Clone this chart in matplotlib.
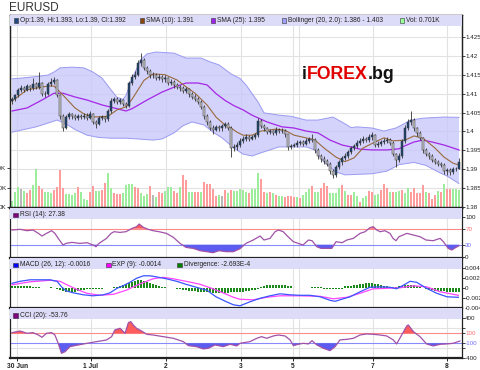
import numpy as np
import matplotlib
matplotlib.use("Agg")
import matplotlib.pyplot as plt
from matplotlib.patches import Rectangle
from matplotlib.transforms import blended_transform_factory

plt.rcParams['font.family'] = ['Liberation Sans', 'DejaVu Sans']

# ---------------- data ----------------
first_open = 1.4080
close = [
    1.4085, 1.4095, 1.4110, 1.4115, 1.4110, 1.4120, 1.4115, 1.4125, 1.4118, 1.4128,
    1.4100, 1.4098, 1.4125, 1.4132, 1.4135, 1.4095, 1.4040, 1.4010, 1.4038, 1.4045,
    1.4040, 1.4035, 1.4040, 1.4038, 1.4042, 1.4036, 1.4045, 1.4025, 1.4020, 1.4035,
    1.4038, 1.4032, 1.4055, 1.4080, 1.4085, 1.4078, 1.4082, 1.4072, 1.4068, 1.4128,
    1.4145, 1.4150, 1.4180, 1.4190, 1.4168, 1.4160, 1.4148, 1.4150, 1.4142, 1.4145,
    1.4138, 1.4140, 1.4128, 1.4132, 1.4122, 1.4118, 1.4115, 1.4108, 1.4112, 1.4098,
    1.4092, 1.4085, 1.4078, 1.4065, 1.4040, 1.4025, 1.4010, 1.4005, 1.4012, 1.4008,
    1.4015, 1.4020, 1.4010, 1.3955, 1.3960, 1.3965, 1.3975, 1.3980, 1.3985, 1.3980,
    1.3985, 1.3990, 1.4028, 1.4015, 1.4008, 1.3998, 1.4000, 1.3995, 1.4005, 1.4000,
    1.4002, 1.3992, 1.3958, 1.3962, 1.3965, 1.3970, 1.3972, 1.3968, 1.3975, 1.3980,
    1.3978, 1.3950, 1.3935, 1.3928, 1.3922, 1.3915, 1.3895, 1.3885, 1.3905, 1.3918,
    1.3930, 1.3935, 1.3945, 1.3955, 1.3962, 1.3970, 1.3975, 1.3980, 1.3978, 1.3985,
    1.3990, 1.3965, 1.3968, 1.3972, 1.3975, 1.3978, 1.3970, 1.3940, 1.3925, 1.3935,
    1.3975, 1.4010, 1.4025, 1.4030, 1.4008, 1.3995, 1.3982, 1.3950, 1.3940, 1.3935,
    1.3925, 1.3920, 1.3915, 1.3912, 1.3895, 1.3898, 1.3892, 1.3900, 1.3900, 1.3920]
high = [
    1.4092, 1.4100, 1.4116, 1.4122, 1.4120, 1.4126, 1.4124, 1.4140, 1.4130, 1.4157,
    1.4132, 1.4106, 1.4130, 1.4140, 1.4145, 1.4138, 1.4100, 1.4046, 1.4044, 1.4052,
    1.4050, 1.4046, 1.4046, 1.4045, 1.4050, 1.4048, 1.4055, 1.4048, 1.4030, 1.4040,
    1.4044, 1.4042, 1.4060, 1.4088, 1.4092, 1.4090, 1.4088, 1.4086, 1.4078, 1.4134,
    1.4152, 1.4160, 1.4188, 1.4207, 1.4194, 1.4172, 1.4164, 1.4156, 1.4154, 1.4152,
    1.4150, 1.4148, 1.4144, 1.4138, 1.4136, 1.4128, 1.4124, 1.4120, 1.4118, 1.4116,
    1.4104, 1.4098, 1.4090, 1.4082, 1.4070, 1.4046, 1.4030, 1.4016, 1.4018, 1.4018,
    1.4020, 1.4026, 1.4024, 1.4014, 1.3966, 1.3972, 1.3982, 1.3988, 1.3992, 1.3990,
    1.3990, 1.3996, 1.4035, 1.4032, 1.4020, 1.4012, 1.4006, 1.4004, 1.4012, 1.4010,
    1.4008, 1.4006, 1.3994, 1.3968, 1.3970, 1.3976, 1.3978, 1.3978, 1.3982, 1.3986,
    1.3992, 1.3982, 1.3956, 1.3940, 1.3934, 1.3926, 1.3918, 1.3900, 1.3910, 1.3924,
    1.3936, 1.3942, 1.3950, 1.3962, 1.3968, 1.3976, 1.3982, 1.3988, 1.3986, 1.3992,
    1.3998, 1.3994, 1.3974, 1.3978, 1.3982, 1.3986, 1.3982, 1.3974, 1.3944, 1.3942,
    1.3980, 1.4016, 1.4032, 1.4054, 1.4036, 1.4012, 1.4000, 1.3986, 1.3956, 1.3946,
    1.3940, 1.3930, 1.3924, 1.3920, 1.3916, 1.3904, 1.3902, 1.3906, 1.3906, 1.3930]
low = [
    1.4072, 1.4080, 1.4090, 1.4105, 1.4104, 1.4106, 1.4108, 1.4110, 1.4112, 1.4113,
    1.4094, 1.4090, 1.4095, 1.4120, 1.4126, 1.4090, 1.4032, 1.4000, 1.4006, 1.4032,
    1.4034, 1.4030, 1.4030, 1.4032, 1.4033, 1.4031, 1.4032, 1.4020, 1.4008, 1.4016,
    1.4030, 1.4026, 1.4028, 1.4050, 1.4074, 1.4072, 1.4072, 1.4066, 1.4062, 1.4064,
    1.4122, 1.4138, 1.4146, 1.4174, 1.4162, 1.4152, 1.4142, 1.4142, 1.4136, 1.4136,
    1.4132, 1.4132, 1.4122, 1.4122, 1.4116, 1.4112, 1.4108, 1.4102, 1.4102, 1.4092,
    1.4086, 1.4080, 1.4072, 1.4058, 1.4034, 1.4018, 1.4004, 1.3994, 1.4000, 1.4002,
    1.4002, 1.4010, 1.4004, 1.3932, 1.3948, 1.3952, 1.3960, 1.3970, 1.3974, 1.3974,
    1.3976, 1.3980, 1.3986, 1.4010, 1.4002, 1.3992, 1.3994, 1.3990, 1.3990, 1.3996,
    1.3996, 1.3986, 1.3952, 1.3954, 1.3958, 1.3960, 1.3964, 1.3962, 1.3964, 1.3970,
    1.3972, 1.3944, 1.3928, 1.3920, 1.3914, 1.3908, 1.3888, 1.3877, 1.3880, 1.3900,
    1.3912, 1.3924, 1.3930, 1.3940, 1.3950, 1.3956, 1.3964, 1.3970, 1.3972, 1.3972,
    1.3978, 1.3960, 1.3958, 1.3962, 1.3966, 1.3970, 1.3964, 1.3934, 1.3905, 1.3920,
    1.3930, 1.3970, 1.4004, 1.4018, 1.4002, 1.3988, 1.3976, 1.3944, 1.3934, 1.3928,
    1.3918, 1.3914, 1.3908, 1.3905, 1.3888, 1.3885, 1.3886, 1.3888, 1.3894, 1.3900]

volume = [  # thousands
    3.4, 8.0, 10.3, 9.2, 8.5, 7.5, 8.9, 11.5, 19.7, 10.9,
    9.4, 8.0, 7.7, 7.5, 8.9, 10.6, 19.1, 10.1, 6.7, 6.7,
    6.3, 7.2, 10.6, 7.7, 4.1, 3.8, 7.7, 10.9, 8.4, 8.4,
    8.9, 12.6, 17.8, 9.7, 7.2, 6.7, 6.7, 7.2, 11.5, 12.0,
    12.0, 10.3, 9.7, 7.2, 6.0, 6.7, 10.9, 6.3, 5.1, 7.9,
    7.2, 8.5, 10.3, 10.3, 8.5, 7.2, 10.6, 16.6, 14.0, 7.9,
    7.7, 7.9, 7.9, 8.0, 13.0, 12.0, 12.0, 9.4, 5.8, 6.5,
    5.8, 8.9, 7.2, 8.9, 8.4,
    8.5, 9.2, 8.9, 8.0, 7.2, 9.2, 9.2, 17.4, 14.5, 7.7,
    7.2, 8.0, 7.2, 6.3, 5.5, 5.8, 5.1, 5.8, 5.5, 5.0,
    5.0, 4.6, 6.3, 8.0, 9.4, 10.9, 7.7, 8.0, 10.1, 12.3,
    10.9, 7.2, 7.2, 7.4, 9.7, 11.5, 8.5, 6.3, 6.3, 8.0,
    5.5, 2.9, 4.6, 5.8, 8.5, 7.7, 6.3, 6.7, 8.9, 12.0,
    10.1, 8.0, 7.7, 8.0, 8.5, 8.9, 7.5, 9.7, 7.7, 9.7,
    7.5, 7.2, 11.5, 7.7, 7.2, 4.4, 6.3, 8.5, 7.7, 11.8,
    9.2, 9.4, 9.2, 9.2, 8.9]
vol_dir = ("gggngppggp" "pgggppppgg" "ggpgggppgg" "ppggpppggg" "gppgggpngp"
           "pgggppgppg" "gppgpppppg" "npgpg"
           "ggggpgggpp" "gpgpggpppp" "gpgggpggpp" "pggggpgppg" "gpggppggpp"
           "pgpggpggpp" "pppgpppgpg" "ppggg")

sma10_x = [0, 5, 12, 14, 17, 21, 24, 27, 32, 35, 38, 40, 42, 44, 47, 51, 55, 58, 61,
           65, 68, 71, 73, 75, 77, 80, 83, 88, 91, 94, 98, 101, 104, 108, 111, 114,
           117, 121, 124, 127, 131, 134, 137, 141, 144, 147, 149]
sma10_y = [1.4080, 1.4110, 1.4120, 1.4120, 1.4096, 1.4062, 1.4046, 1.4038, 1.4040,
           1.4057, 1.4065, 1.4085, 1.4110, 1.4135, 1.4152, 1.4150, 1.4136, 1.4118,
           1.4101, 1.4070, 1.4038, 1.4017, 1.4009, 1.3998, 1.3990, 1.3990, 1.4001,
           1.4006, 1.4003, 1.3990, 1.3983, 1.3977, 1.3956, 1.3932, 1.3920, 1.3930,
           1.3956, 1.3972, 1.3983, 1.3975, 1.3977, 1.3988, 1.3982, 1.3956, 1.3932,
           1.3916, 1.3911]
sma25_x = [0, 5, 10, 14, 17, 21, 25, 30, 34, 38, 40, 45, 50, 54, 58, 62, 65, 68, 71,
           74, 77, 80, 85, 90, 94, 98, 102, 106, 110, 113, 116, 120, 125, 129, 131,
           134, 137, 140, 144, 149]
sma25_y = [1.4054, 1.4062, 1.4083, 1.4101, 1.4101, 1.4091, 1.4083, 1.4070, 1.4062,
           1.4054, 1.4060, 1.4083, 1.4104, 1.4117, 1.4128, 1.4128, 1.4123, 1.4100,
           1.4082, 1.4068, 1.4057, 1.4043, 1.4025, 1.4012, 1.4009, 1.4001, 1.3996,
           1.3977, 1.3964, 1.3959, 1.3953, 1.3951, 1.3951, 1.3954, 1.3962, 1.3972,
           1.3977, 1.3972, 1.3964, 1.3951]
bb_up_x = [0, 3, 8, 12, 14, 16, 20, 24, 27, 30, 33, 35, 37, 38, 40, 43, 45, 48, 54,
           58, 63, 66, 69, 73, 76, 78, 82, 84, 89, 93, 98, 102, 107, 111, 113, 115,
           120, 124, 128, 133, 137, 144, 149]
bb_up_y = [1.4139, 1.4141, 1.4145, 1.4149, 1.4157, 1.4168, 1.4170, 1.4168, 1.4157,
           1.4141, 1.4110, 1.4090, 1.4085, 1.4095, 1.4140, 1.4190, 1.4205, 1.4210,
           1.4207, 1.4194, 1.4194, 1.4184, 1.4176, 1.4152, 1.4140, 1.4123, 1.4078,
           1.4049, 1.4043, 1.4040, 1.4030, 1.4030, 1.4038, 1.4020, 1.4010, 1.4012,
           1.4009, 1.4001, 1.4009, 1.4030, 1.4035, 1.4038, 1.4037]
bb_lo_x = [0, 4, 8, 12, 15, 18, 21, 25, 29, 33, 38, 42, 47, 50, 54, 57, 60, 64, 67,
           70, 74, 77, 80, 84, 89, 98, 101, 104, 108, 111, 120, 125, 129, 134, 138,
           142, 145, 149]
bb_lo_y = [1.3998, 1.4005, 1.4012, 1.4022, 1.4030, 1.4020, 1.4005, 1.3990, 1.3984,
           1.3982, 1.3982, 1.3980, 1.3977, 1.3980, 1.3996, 1.4015, 1.4025, 1.4017,
           1.3998, 1.3983, 1.3956, 1.3940, 1.3935, 1.3946, 1.3959, 1.3959, 1.3951,
           1.3919, 1.3893, 1.3885, 1.3888, 1.3895, 1.3912, 1.3918, 1.3910, 1.3893,
           1.3882, 1.3862]

rsi_x = [0, 2.7, 5, 7, 8.8, 10, 11.5, 13.2, 14.3, 15.4, 17, 18, 20, 22.6, 25, 27, 28,
         29, 31.5, 33, 34, 36, 38, 40, 41.5, 42.4, 43.8, 45.4, 47, 49, 51.5, 53.8, 56,
         58, 60.4, 62.7, 65, 67, 69, 71.5, 73.8, 76, 78, 80.4, 82.7, 84, 86, 87.7,
         88.8, 90.4, 92, 93.8, 95.4, 97, 98.8, 100, 101.6, 103, 105, 106.6, 108, 110,
         111.6, 113.8, 116, 117.7, 119.3, 120.4, 121.6, 122.7, 124.3, 126, 127, 128,
         129, 131.6, 133.8, 136, 138, 140.4, 142.7, 143.8, 145.4, 146.6, 148, 149]
rsi_v = [66.7, 68.4, 65, 66.7, 58.3, 51.7, 58.3, 65, 58.3, 45.8, 29.2, 33.3, 35.8,
         33.3, 35, 29.2, 25, 33.3, 45.8, 58.3, 62.5, 60.8, 62.5, 70.8, 75, 81.7, 73.3,
         68.4, 65, 62.5, 58.3, 48.3, 33.3, 23.3, 20.8, 15, 12.5, 10, 15, 12.5, 12.5,
         20, 33.3, 41.7, 51.7, 41.7, 45.8, 62.5, 66.7, 62.5, 50, 37.5, 33.3, 29.2,
         41.7, 40, 25, 20.8, 20.8, 20.8, 37.5, 35, 41.7, 45.8, 58.3, 62.5, 72.5, 75,
         66.7, 62.5, 65, 58.3, 45.8, 40, 50, 58.3, 54.2, 50, 41.7, 40, 45.8, 37.5,
         20.8, 16.7, 23.3, 27.4]

macd_x = [0, 2.7, 6, 9.3, 12.7, 15, 16.5, 18, 20.4, 23.8, 27, 30.4, 32.7, 35, 37,
          39.3, 41.5, 43.8, 46, 48, 51.5, 54.9, 58, 61.5, 65, 68, 71.5, 73.8, 76,
          79.3, 82.7, 86, 89.3, 92.7, 96, 99.3, 102.7, 106, 107.7, 109.3, 112.7, 116,
          119.3, 122.7, 126, 128.2, 130.4, 132.7, 134.9, 138.2, 141.6, 145, 148.8]
macd_v = [0.0010, 0.0014, 0.0017, 0.0017, 0.0017, 0.0014, 0.0003, -0.0005, -0.0009,
          -0.0013, -0.0015, -0.0013, -0.0009, 0.0000, 0.0005, 0.0012, 0.0020, 0.0025,
          0.0025, 0.0023, 0.0019, 0.0014, 0.0008, 0.0002, -0.0004, -0.0017, -0.0027,
          -0.0033, -0.0035, -0.0027, -0.0020, -0.0015, -0.0011, -0.0013, -0.0014,
          -0.0014, -0.0017, -0.0024, -0.0026, -0.0023, -0.0017, -0.0007, 0.0002,
          0.0003, 0.0002, -0.0001, 0.0006, 0.0014, 0.0012, 0.0000, -0.0010, -0.0017,
          -0.0018]
sig_x = [0, 6, 12.7, 16, 18, 21.5, 25, 29.3, 33.8, 38, 42.7, 47, 50.4, 53.8, 58,
         62.7, 67, 71.5, 73.8, 76, 80.4, 84.9, 89.3, 96, 102.7, 107.1, 111.6, 116,
         120.4, 124.9, 129.3, 133.8, 138.2, 142.7, 148.8]
sig_v = [0.0007, 0.0013, 0.0016, 0.0014, 0.0008, -0.0002, -0.0010, -0.0014, -0.0012,
         -0.0004, 0.0009, 0.0019, 0.0022, 0.0019, 0.0014, 0.0008, -0.0001, -0.0012,
         -0.0018, -0.0022, -0.0023, -0.0018, -0.0015, -0.0015, -0.0016, -0.0021,
         -0.0018, -0.0010, -0.0001, 0.0000, 0.0001, 0.0005, 0.0003, -0.0007, -0.0014]
divergence = [  # units of 1e-4
    1.3, 1.3, 1.3, 1.3, 1.3, 1.3, 1.3, 0.7, 0.7, 0.7,
    0, 0, 0, 0.7, 0,
    -0.7, -1.3, -2.0, -2.7, -2.7, -2.7, -2.7, -2.0,
    -1.3, -1.3, -0.7, -0.7, -0.7, -0.7, -0.7, -0.7, 0, 0, 0,
    0.7, 0.7, 1.3, 2.0, 2.7, 3.3, 4.0, 4.7, 5.3, 5.3, 4.7, 4.0,
    3.3, 2.7, 2.0, 1.3,
    0.7, 0.7, 0, 0, 0, -0.7,
    -0.7, -1.3, -1.3, -2.0, -2.0, -2.0, -2.7, -2.7, -2.7, -2.7, -2.7,
    -3.3, -3.3, -3.3, -3.3, -3.3, -3.3, -2.7, -2.7, -2.7, -2.7,
    -2.7, -2.0, -2.0, -1.3, -1.3, -0.7,
    0.7, 1.3, 2.0, 2.0, 2.0, 2.0, 2.0, 2.0, 2.0, 1.3, 1.3,
    0, 0, 0, 0, 0, 0,
    0.7, 0.7, 0.7, 0.7,
    -0.7, -0.7, -0.7, -0.7, -0.7, -0.7, -0.7, 1.3, 1.3,
    1.3, 2.0, 2.0, 2.7, 2.7, 3.3, 3.3, 3.3, 2.7, 2.7, 2.0,
    1.3, 1.3, 0.7, 0.7, 0.7,
    1.3, 1.3, 2.0, 2.0, 2.0, 2.0, 1.3, 0.7,
    0,
    -0.7, -1.3, -1.3, -2.0, -2.0, -2.0, -2.0, -2.7, -2.7, -2.7, -2.7, -2.7]

cci_x = [0, 2.7, 5, 7, 8.8, 10, 11.5, 13.2, 14.3, 15.4, 16.5, 17.7, 19.3, 21.5, 25,
         28.2, 31.5, 33.2, 34.3, 36, 37.7, 38.8, 39.6, 40.4, 41.5, 43.2, 44.9, 47,
         50.4, 53.8, 57.1, 58.8, 61.5, 63.8, 65.4, 67.7, 70.4, 72.7, 74.9, 76, 79.3,
         81.6, 83.2, 84.9, 87.1, 88.8, 91, 92.7, 93.8, 95.4, 97.1, 98.8, 100, 101.6,
         103.8, 106, 107.7, 109.3, 111.6, 113.8, 116, 118.2, 120.4, 122.7, 124.9,
         127.1, 128.2, 129.9, 131.6, 132.1, 133.8, 136, 138.2, 140.4, 142.7, 144.9,
         147.1, 149.3]
cci_v = [113, 146, 100, 113, 66, 20, 100, 113, 66, -100, -300, -267, -167, -140, -100,
         -67, -33, 33, 167, 200, 100, 313, 333, 267, 200, 146, 80, 66, 33, 0, -67,
         -147, -167, -213, -200, -133, -167, -120, -153, -100, -67, 0, 33, 0, 47, 66,
         47, -33, -147, -120, -100, -113, -47, -133, -200, -247, -167, -33, -20, 0, 66,
         87, 80, 66, 47, -33, -113, 66, 247, 267, 133, 33, -113, -153, -120, -113,
         -100, -54]

day_pos = [1.8, 26.3, 51.3, 76.2, 93.7, 120.3, 145.0]
day_labels = ['30 Jun', '1 Jul', '2', '3', '5', '7', '8']
extra_grid = [95.7]
price_ticks = [1.38, 1.385, 1.39, 1.395, 1.40, 1.405, 1.41, 1.415, 1.42, 1.425]

# ---------------- layout ----------------
W, H = 480, 370
fig = plt.figure(figsize=(W / 100, H / 100), dpi=100)
fig.patch.set_facecolor('white')
XL = (-0.67, 150.0)
HDR = '#dcdcf8'
FS = 4.8
TFS = 4.5
TXT = '#222222'
DIV_SCALE = 3.0


def rect(top, bottom):
    return [10 / W, 1 - bottom / H, 452 / W, (bottom - top) / H]


def style(ax, bottom_lw=1.6):
    for s in ax.spines.values():
        s.set_color('#222222')
        s.set_linewidth(0.9)
    ax.spines['bottom'].set_linewidth(bottom_lw)
    ax.set_xlim(*XL)
    ax.set_xticks([])


def header(ax, hpx, tot):
    ax.add_patch(Rectangle((0, 1 - hpx / tot), 1, hpx / tot, transform=ax.transAxes,
                           facecolor=HDR, edgecolor='none', zorder=20))


def vgrid(ax):
    for d in day_pos + extra_grid:
        ax.axvline(d, color='#e2e2e2', lw=0.8, zorder=0)


def ftxt(x, y, s, **kw):
    kw.setdefault('fontsize', FS)
    kw.setdefault('color', TXT)
    kw.setdefault('va', 'center')
    return fig.text(x / W, 1 - y / H, s, **kw)


def sq(x, y, color):
    fig.add_artist(Rectangle((x / W, 1 - (y + 2.3) / H), 4.6 / W, 4.6 / H,
                             transform=fig.transFigure, facecolor=color,
                             edgecolor='#333333', lw=0.4, zorder=30))


def right_ticks(ax):
    ax.yaxis.tick_right()
    ax.tick_params(axis='y', which='both', direction='out', length=1.8, pad=0.5,
                   labelsize=TFS, colors=TXT, width=0.6)


idx = np.arange(len(close))
c = np.array(close)
o = np.r_[first_open, c[:-1]]
hi = np.array(high)
lo = np.array(low)

# ----- main price panel (volume axes underneath) -----
ax_vol = fig.add_axes(rect(15, 208))
ax = ax_vol.twinx()
style(ax_vol)
style(ax)
ax_vol.set_ylim(-0.4, 98.6)
ax.set_ylim(1.37974, 1.43079)
vgrid(ax_vol)
tr = blended_transform_factory(ax_vol.transAxes, ax.transData)
for p in price_ticks:
    ax_vol.plot([0, 1], [p, p], transform=tr, color='#e2e2e2', lw=0.8, zorder=0)

vcol = {'g': '#9cee9c', 'p': '#ff9c9c', 'n': '#b8b8b8'}
ax_vol.bar(idx, volume, width=0.68, color=[vcol[d] for d in vol_dir], zorder=2)
ax_vol.set_yticks([0, 10, 20])
ax_vol.set_yticklabels(['0K', '10K', '20K'])
ax_vol.tick_params(axis='y', direction='out', length=2, pad=0.8, labelsize=TFS,
                   colors=TXT, width=0.6)

# Bollinger band
poly_x = np.r_[bb_up_x, bb_lo_x[::-1]]
poly_y = np.r_[bb_up_y, bb_lo_y[::-1]]
ax.fill(poly_x, poly_y, facecolor='#c8c8fa', alpha=0.8, edgecolor='none', zorder=1)
ax.plot(bb_up_x, bb_up_y, color='#9a9af2', lw=0.7, zorder=1.5)
ax.plot(bb_lo_x, bb_lo_y, color='#9a9af2', lw=0.7, zorder=1.5)
ax.plot(sma25_x, sma25_y, color='#a626e6', lw=0.9, zorder=2)
ax.plot(sma10_x, sma10_y, color='#9a6a3a', lw=0.8, zorder=2.5)

# candles
up = c >= o
ax.vlines(idx, lo, hi, color='#333333', lw=0.6, zorder=3)
body_b = np.minimum(o, c)
body_h = np.maximum(np.abs(c - o), 0.00012)
ax.bar(idx, body_h, bottom=body_b, width=0.72,
       color=np.where(up, '#1d4670', '#c6c6c6'), edgecolor='#333333',
       linewidth=0.35, zorder=4)

ax.set_yticks(price_ticks)
ax.set_yticklabels([f"{p:g}" for p in price_ticks])
right_ticks(ax)
header(ax, 11, 193)

# watermark
t1 = ax.annotate('i', xy=(302 / W, 1 - 79 / H), xycoords='figure fraction',
                 fontsize=12.8, weight='bold', color='#111111', va='baseline',
                 annotation_clip=False, zorder=25)
t2 = ax.annotate('FOREX', xy=(1, 0), xycoords=t1, fontsize=12.8, weight='bold',
                 color='#e00000', va='bottom', annotation_clip=False, zorder=25)
ax.annotate('.bg', xy=(1, 0), xycoords=t2, fontsize=12.8, weight='bold',
            color='#111111', va='bottom', annotation_clip=False, zorder=25)

# ----- RSI panel -----
ax_r = fig.add_axes(rect(208, 257.5))
style(ax_r)
ax_r.set_ylim(-2, 121.75)
vgrid(ax_r)
rv = np.array(rsi_v)
ax_r.axhline(70, color='#ff8a8a', lw=0.8, zorder=2)
ax_r.axhline(30, color='#8a8aff', lw=0.8, zorder=2)
ax_r.fill_between(rsi_x, rv, 70, where=rv >= 70, interpolate=True,
                  color='#ff5c5c', lw=0, zorder=3)
ax_r.fill_between(rsi_x, rv, 30, where=rv <= 30, interpolate=True,
                  color='#5c5cf0', lw=0, zorder=3)
ax_r.plot(rsi_x, rv, color='#a052a8', lw=0.9, zorder=4)
ax_r.set_yticks([0, 30, 70, 100])
ax_r.set_yticklabels(['0', '30', '70', '100'])
right_ticks(ax_r)
for lab, col in zip(ax_r.get_yticklabels(), [TXT, '#7070ff', '#ff7070', TXT]):
    lab.set_color(col)
header(ax_r, 10.5, 49.5)

# ----- MACD panel -----
ax_m = fig.add_axes(rect(257.5, 307.5))
style(ax_m)
ax_m.set_ylim(-0.00384, 0.00616)
vgrid(ax_m)
ax_m.bar(idx, np.array(divergence) * 1e-4 * DIV_SCALE, width=0.45,
         color='#1b8a1b', zorder=2)
ax_m.plot(sig_x, sig_v, color='#ff44ff', lw=0.9, zorder=3)
ax_m.plot(macd_x, macd_v, color='#3a55ff', lw=0.9, zorder=4)
ax_m.set_yticks([-0.002, 0, 0.002, 0.004])
ax_m.set_yticklabels(['-0.002', '0', '0.002', '0.004'])
right_ticks(ax_m)
header(ax_m, 11, 50)
ftxt(465, 308.3, '-0.004', fontsize=TFS)

# ----- CCI panel -----
ax_c = fig.add_axes(rect(307.5, 358.4))
style(ax_c)
ax_c.set_ylim(-402, 616)
vgrid(ax_c)
cv = np.array(cci_v)
for g in (200, -200):
    ax_c.axhline(g, color='#e2e2e2', lw=0.8, zorder=0)
ax_c.axhline(100, color='#ff8a8a', lw=0.8, zorder=2)
ax_c.axhline(-100, color='#8a8aff', lw=0.8, zorder=2)
ax_c.fill_between(cci_x, cv, 100, where=cv >= 100, interpolate=True,
                  color='#ff5c5c', lw=0, zorder=3)
ax_c.fill_between(cci_x, cv, -100, where=cv <= -100, interpolate=True,
                  color='#5c5cf0', lw=0, zorder=3)
ax_c.plot(cci_x, cv, color='#a052a8', lw=0.9, zorder=4)
ax_c.set_yticks([-400, -200, -100, 100, 200, 400])
ax_c.set_yticklabels(['-400', '', '-100', '100', '', '400'])
right_ticks(ax_c)
for lab, col in zip(ax_c.get_yticklabels(), [TXT, TXT, '#7070ff', '#ff7070', TXT, TXT]):
    lab.set_color(col)
header(ax_c, 11.5, 50.9)
ax_c.set_xticks(day_pos)
ax_c.set_xticklabels(day_labels, fontsize=FS, weight='bold', color=TXT)
ax_c.tick_params(axis='x', length=2, pad=1.5, width=0.6)

# ----- texts -----
ftxt(9, 8, 'EURUSD', fontsize=8.5, color='#333333')
y0 = 20.5
sq(13.5, y0, '#1d4a80'); ftxt(20, y0, 'Op:1.39, Hi:1.393, Lo:1.39, Cl:1.392')
sq(139.5, y0, '#8b4513'); ftxt(146, y0, 'SMA (10): 1.391')
sq(210.5, y0, '#a020f0'); ftxt(217, y0, 'SMA (25): 1.395')
sq(281.5, y0, '#a0a0ff'); ftxt(288, y0, 'Bollinger (20, 2.0): 1.386 - 1.403')
sq(399.5, y0, '#99ff99'); ftxt(406, y0, 'Vol: 0.701K')

sq(13, 215, '#800080'); ftxt(19.5, 215, 'RSI (14): 27.38')
sq(13, 265, '#0000ff'); ftxt(19.5, 265, 'MACD (26, 12): -0.0016')
sq(106, 265, '#ff00ff'); ftxt(112.5, 265, 'EXP (9): -0.0014')
sq(177, 265, '#008000'); ftxt(183.5, 265, 'Divergence: -2.693E-4')
sq(13, 315.5, '#800080'); ftxt(19.5, 315.5, 'CCI (20): -53.76')

fig.savefig('out.png', dpi=100)
